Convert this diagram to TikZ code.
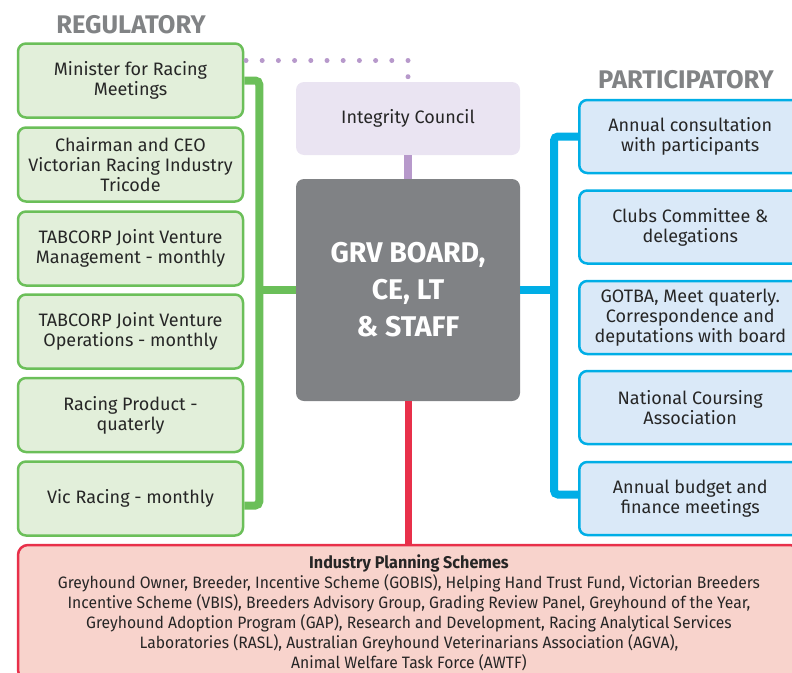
\documentclass[tikz,border=0pt]{standalone}
\usepackage{fontspec}
\setmainfont{Fira Sans}
\newfontfamily\narrowfont[FakeStretch=0.95]{Fira Sans}
\usetikzlibrary{positioning}

\definecolor{regline}{HTML}{6BBF59}
\definecolor{regfill}{HTML}{E2EFDA}
\definecolor{partline}{HTML}{00AEE6}
\definecolor{partfill}{HTML}{DAE9F8}
\definecolor{boardgrey}{HTML}{808285}
\definecolor{intline}{HTML}{B799CB}
\definecolor{intfill}{HTML}{EAE4F2}
\definecolor{schline}{HTML}{E8304A}
\definecolor{schfill}{HTML}{F8D3CC}
\definecolor{headgrey}{HTML}{818385}

\tikzset{
	box/.style = {rounded corners=8pt, line width=2.5pt, align=center, inner sep=2pt,
		font=\fontsize{18}{20}\selectfont, text=black!85},
	regbox/.style = {box, draw=regline, fill=regfill, minimum width=225pt, minimum height=74pt},
	partbox/.style = {box, draw=partline, fill=partfill, minimum width=222pt, minimum height=73pt},
	heading/.style = {font=\fontsize{25.5}{28}\selectfont\bfseries, text=headgrey},
	gline/.style = {draw=regline, line width=8pt, rounded corners=4pt},
	bline/.style = {draw=partline, line width=8pt, rounded corners=4pt},
}

\begin{document}
\begin{tikzpicture}[x=1pt, y=-1pt]
			\useasboundingbox (0,0) rectangle (792,672);

			% headings
			\node[heading] (reghead) at (131,25) {REGULATORY};
			\node[heading] (parthead) at (686,80) {PARTICIPATORY};

			% regulatory side
			\node[regbox] (reg1) at (130.5,80.5) {Minister for Racing\\Meetings};
			\node[regbox] (reg2) at (130.5,164.5) {Chairman and CEO\\Victorian Racing Industry\\Tricode};
			\node[regbox] (reg3) at (130.5,248.5) {TABCORP Joint Venture\\Management - monthly};
			\node[regbox] (reg4) at (130.5,331.5) {TABCORP Joint Venture\\Operations - monthly};
			\node[regbox] (reg5) at (130.5,415) {Racing Product -\\quaterly};
			\node[regbox] (reg6) at (130.5,498.5) {Vic Racing - monthly};

			% centre
			\node[rounded corners=8pt, fill=intfill, minimum width=224pt, minimum height=73pt,
				font=\fontsize{18}{20}\selectfont, text=black!85] (integrity) at (408,118.5) {Integrity Council};
			\node[rounded corners=8pt, fill=boardgrey, minimum width=224pt, minimum height=222pt,
				align=center, text=white, font=\fontsize{28.5}{37}\selectfont\bfseries] (board) at (408,290)
				{GRV BOARD,\\CE, LT\\\& STAFF};

			% participatory side
			\node[partbox, anchor=west] (part1) at (578,136.5) {Annual consultation\\with participants};
			\node[partbox, anchor=west] (part2) at (578,227) {Clubs Committee \&\\delegations};
			\node[partbox, anchor=west] (part3) at (578,317.5) {GOTBA, Meet quaterly.\\Correspondence and\\deputations with board};
			\node[partbox, anchor=west] (part4) at (578,407.5) {National Coursing\\Association};
			\node[partbox, anchor=west] (part5) at (578,498.5) {Annual budget and\\finance meetings};

			% schemes
			\node[rounded corners=10pt, draw=schline, fill=schfill, line width=2.5pt,
				minimum width=782pt, minimum height=135pt, align=center,
				font=\narrowfont\fontsize{16.5}{20}\selectfont, text=black!85] (schemes) at (409,612.5)
				{{\bfseries\fontsize{17}{20}\selectfont Industry Planning Schemes}\\
				Greyhound Owner, Breeder, Incentive Scheme (GOBIS), Helping Hand Trust Fund, Victorian Breeders\\
				Incentive Scheme (VBIS), Breeders Advisory Group, Grading Review Panel, Greyhound of the Year,\\
				Greyhound Adoption Program (GAP), Research and Development, Racing Analytical Services\\
				Laboratories (RASL), Australian Greyhound Veterinarians Association (AGVA),\\
				Animal Welfare Task Force (AWTF)};

			% connectors
			\draw[gline] (reg1.east) -| ([xshift=15pt, yshift=-7pt]reg6.east) -- ([yshift=-7pt]reg6.east);
			\draw[gline] (board.west) -- ([xshift=15pt]board.west -| reg1.east);
			\draw[bline] (part1.west) -| ([xshift=-24pt, yshift=4pt]part5.west) -- ([yshift=4pt]part5.west);
			\draw[bline] (board.east) -- ([xshift=-24pt]board.east -| part1.west);
			\draw[draw=intline, line width=8pt] (integrity.south) -- (board.north);
			\draw[draw=schline, line width=7pt] (board.south) -- (board.south |- schemes.north);
			\draw[draw=intline, line width=5pt, line cap=round, dash pattern=on 0pt off 16.2pt]
				([xshift=1.75pt, yshift=20pt]reg1.east) -| ([yshift=5pt]integrity.north);
\end{tikzpicture}
\end{document}
